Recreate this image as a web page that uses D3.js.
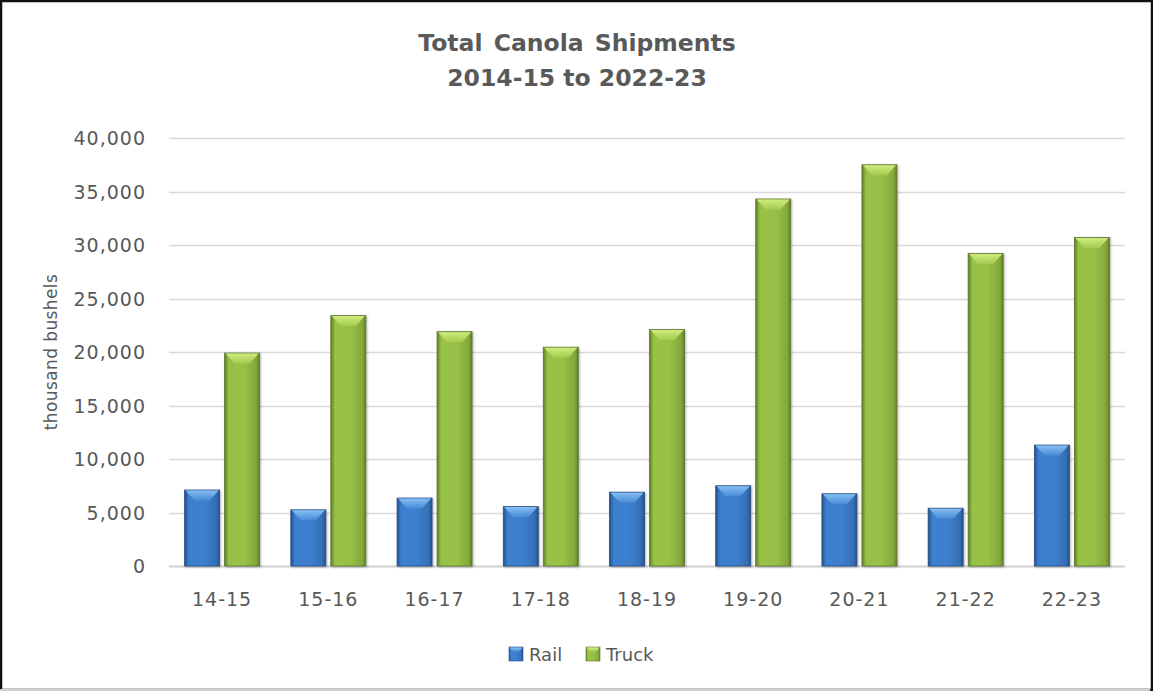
<!DOCTYPE html>
<html><head><meta charset="utf-8">
<script src="https://cdn.jsdelivr.net/npm/d3@7"></script>
<style>body{margin:0;background:#fff}svg{display:block}text{font-family:"DejaVu Sans",sans-serif;fill:#595959}</style>
</head><body><svg id="c" width="1153" height="691"></svg>
<script>
const categories = ["14-15","15-16","16-17","17-18","18-19","19-20","20-21","21-22","22-23"];
const rail  = [7100, 5250, 6350, 5550, 6900, 7500, 6750, 5400, 11300];
const truck = [19900, 23400, 21900, 20450, 22100, 34300, 37500, 29200, 30700];
const seriesNames = ["Rail","Truck"];
const yTicks = [0,5000,10000,15000,20000,25000,30000,35000,40000];

const svg = d3.select("#c");
const W = 1153, H = 691;
const m = {left:169, right:1125, top:138, bottom:566};

// gradients
const defs = svg.append("defs");
function hgrad(id, edge, mid){
  const g = defs.append("linearGradient").attr("id", id).attr("x1","0").attr("x2","1").attr("y1","0").attr("y2","0");
  g.append("stop").attr("offset","0").attr("stop-color", edge);
  g.append("stop").attr("offset","0.12").attr("stop-color", mid);
  g.append("stop").attr("offset","0.55").attr("stop-color", mid);
  g.append("stop").attr("offset","0.9").attr("stop-color", d3.color(mid).darker(0.4));
  g.append("stop").attr("offset","1").attr("stop-color", edge);
}
hgrad("gRail", "#24508c", "#3d80d0");
hgrad("gTruck", "#5f7f26", "#98c246");
function vgrad(id, c1, c2){
  const g = defs.append("linearGradient").attr("id", id).attr("x1","0").attr("x2","0").attr("y1","0").attr("y2","1");
  g.append("stop").attr("offset","0").attr("stop-color", c1);
  g.append("stop").attr("offset","1").attr("stop-color", c2);
}
vgrad("tRail", "#8ac2f4", "#4a8ad8");
vgrad("tTruck", "#d2ee80", "#a3cc4e");
const f = defs.append("filter").attr("id","sh").attr("x","-20%").attr("y","-5%").attr("width","140%").attr("height","110%");
f.append("feDropShadow").attr("dx",1).attr("dy",1).attr("stdDeviation",1.2).attr("flood-color","#000").attr("flood-opacity",0.3);

// border
svg.append("rect").attr("x",1).attr("y",1).attr("width",W-2).attr("height",H-2).attr("fill","#fff").attr("stroke","#111").attr("stroke-width",2.5);
svg.append("line").attr("x1",0).attr("x2",W-3).attr("y1",H-1).attr("y2",H-1).attr("stroke","#d0d0d0").attr("stroke-width",2);

const x0 = d3.scaleBand().domain(categories).range([m.left, m.right]).paddingInner(0).paddingOuter(0);
const y = d3.scaleLinear().domain([0,40000]).range([m.bottom, m.top]);
const bw = 35, gap = 5;
const x1 = d3.scaleOrdinal().domain(seriesNames).range([-(bw+gap/2), gap/2]);

// gridlines
svg.append("g").selectAll("line").data(yTicks).join("line")
  .attr("x1", m.left).attr("x2", m.right)
  .attr("y1", d=>Math.round(y(d))+0.5).attr("y2", d=>Math.round(y(d))+0.5)
  .attr("stroke", d=> d===0 ? "#d0d0d0" : "#d9d9d9").attr("stroke-width", d=>d===0?2:1.5);

// y axis
const yAxis = d3.axisLeft(y).tickValues(yTicks).tickFormat(d3.format(",")).tickSize(0).tickPadding(0);
const ga = svg.append("g").attr("transform",`translate(146,0)`).call(yAxis);
ga.select(".domain").remove();
ga.selectAll("text").attr("font-size",19).attr("fill","#595959").style("font-family","'DejaVu Sans',sans-serif").attr("letter-spacing","1px").attr("dy","0.36em");

// x axis
const xAxis = d3.axisBottom(x0).tickSize(0).tickPadding(0);
const gx = svg.append("g").call(xAxis);
gx.select(".domain").remove();
gx.selectAll(".tick").attr("transform", d=>`translate(${x0(d)+x0.bandwidth()/2},606)`);
gx.selectAll("text").attr("y",0).attr("dy",0).attr("font-size",19).attr("fill","#595959").style("font-family","'DejaVu Sans',sans-serif").attr("letter-spacing","1px");

// bars
const data = [];
categories.forEach((c,i)=>{
  data.push({cat:c, s:"Rail", v:rail[i]});
  data.push({cat:c, s:"Truck", v:truck[i]});
});
const gb = svg.append("g");
const bars = gb.selectAll("g.bar").data(data).join("g").attr("class","bar")
  .attr("transform", d=>`translate(${x0(d.cat)+x0.bandwidth()/2 + x1(d.s)},0)`);
bars.append("rect").attr("x",0).attr("y", d=>y(d.v)).attr("width",bw).attr("height", d=>y(0)-y(d.v))
  .attr("fill", d=> d.s==="Rail" ? "url(#gRail)" : "url(#gTruck)")
  .attr("stroke", d=> d.s==="Rail" ? "#2a4f80" : "#5d7530").attr("stroke-width",0.8)
  .attr("filter","url(#sh)");
// top bevel
bars.append("path").attr("d", d=>{
  const t = y(d.v)+0.5, h = 10;
  return `M1,${t} L${bw-1},${t} L${bw-10},${t+h} L10,${t+h} Z`;
}).attr("fill", d=> d.s==="Rail" ? "url(#tRail)" : "url(#tTruck)").attr("opacity",0.95);

// title
svg.append("text").attr("x",577).attr("y",51).attr("text-anchor","middle").attr("font-size",23.5).attr("font-weight",700).attr("fill","#595959").attr("word-spacing","3px").text("Total Canola Shipments");
svg.append("text").attr("x",577).attr("y",86).attr("text-anchor","middle").attr("font-size",23.5).attr("font-weight",700).attr("fill","#595959").text("2014-15 to 2022-23");

// y label
svg.append("text").attr("transform","translate(57,352) rotate(-90)").attr("text-anchor","middle").attr("font-size",17).attr("letter-spacing","0.4px").attr("fill","#595959").text("thousand bushels");

// legend
const leg = svg.append("g").attr("transform","translate(509,647)");
const legItems = [{n:"Rail", x:0, f:"url(#gRail)", t:"url(#tRail)", s:"#2a4f80"},{n:"Truck", x:77, f:"url(#gTruck)", t:"url(#tTruck)", s:"#5d7530"}];
const li = leg.selectAll("g").data(legItems).join("g").attr("transform", d=>`translate(${d.x},0)`);
li.append("rect").attr("width",14).attr("height",14).attr("fill", d=>d.f).attr("stroke", d=>d.s).attr("stroke-width",0.6);
li.append("path").attr("d","M0.5,0.5 L13.5,0.5 L10,4.5 L4,4.5 Z").attr("fill", d=>d.t);
li.append("text").attr("x",20).attr("y",14).attr("font-size",18).attr("fill","#595959").text(d=>d.n);
</script></body></html>
